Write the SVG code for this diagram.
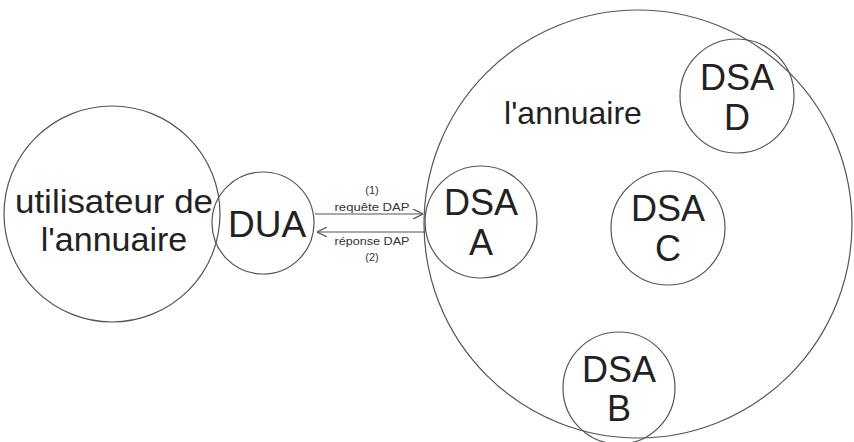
<svg xmlns="http://www.w3.org/2000/svg" width="854" height="442" viewBox="0 0 854 442">
  <style>
    .ring { fill: none; stroke: #555; stroke-width: 1.2; }
    .big { font-family: "Liberation Sans", Arial, sans-serif; fill: #222; text-anchor: middle; }
    .small { font-family: "Liberation Sans", Arial, sans-serif; fill: #333; text-anchor: middle; font-size: 11px; }
    .link { stroke: #555; stroke-width: 1.2; fill: none; }
  </style>
  <defs>
    <marker id="head" viewBox="0 0 10 10" refX="10" refY="5" markerWidth="10" markerHeight="10" markerUnits="userSpaceOnUse" orient="auto">
      <path d="M0,0 L10,5 L0,10" fill="none" stroke="#555" stroke-width="1.2"/>
    </marker>
  </defs>
  <rect width="854" height="442" fill="#fff"/>

  <g id="annuaire">
    <circle class="ring" cx="638" cy="224" r="214"/>
    <text class="big" x="573" y="124" font-size="32">l'annuaire</text>
  </g>

  <g id="utilisateur">
    <circle class="ring" cx="112" cy="214" r="108"/>
    <text class="big" x="114" y="213" font-size="34" textLength="198" lengthAdjust="spacingAndGlyphs">utilisateur de</text>
    <text class="big" x="114" y="251" font-size="34">l'annuaire</text>
  </g>

  <g id="dua">
    <circle class="ring" cx="263" cy="223" r="51"/>
    <text class="big" x="267" y="237" font-size="37">DUA</text>
  </g>

  <g id="dsa-a">
    <circle class="ring" cx="481" cy="222" r="56"/>
    <text class="big" x="481" y="215" font-size="36">DSA</text>
    <text class="big" x="481" y="255" font-size="36">A</text>
  </g>

  <g id="dsa-c">
    <circle class="ring" cx="668" cy="228" r="57"/>
    <text class="big" x="668" y="221" font-size="36">DSA</text>
    <text class="big" x="668" y="261" font-size="36">C</text>
  </g>

  <g id="dsa-d">
    <circle class="ring" cx="737" cy="96" r="57"/>
    <text class="big" x="737" y="90" font-size="36">DSA</text>
    <text class="big" x="737" y="130" font-size="36">D</text>
  </g>

  <g id="dsa-b">
    <circle class="ring" cx="619" cy="388" r="56"/>
    <text class="big" x="619" y="382" font-size="36">DSA</text>
    <text class="big" x="619" y="421" font-size="36">B</text>
  </g>

  <g id="connectors">
    <line class="link" x1="315" y1="214" x2="423" y2="214" marker-end="url(#head)"/>
    <line class="link" x1="425" y1="232" x2="317" y2="232" marker-end="url(#head)"/>
    <text class="small" x="372" y="194">(1)</text>
    <text class="small" x="372" y="211" textLength="75" lengthAdjust="spacingAndGlyphs">requête DAP</text>
    <text class="small" x="372" y="245" textLength="75" lengthAdjust="spacingAndGlyphs">réponse DAP</text>
    <text class="small" x="372" y="261">(2)</text>
  </g>
</svg>
